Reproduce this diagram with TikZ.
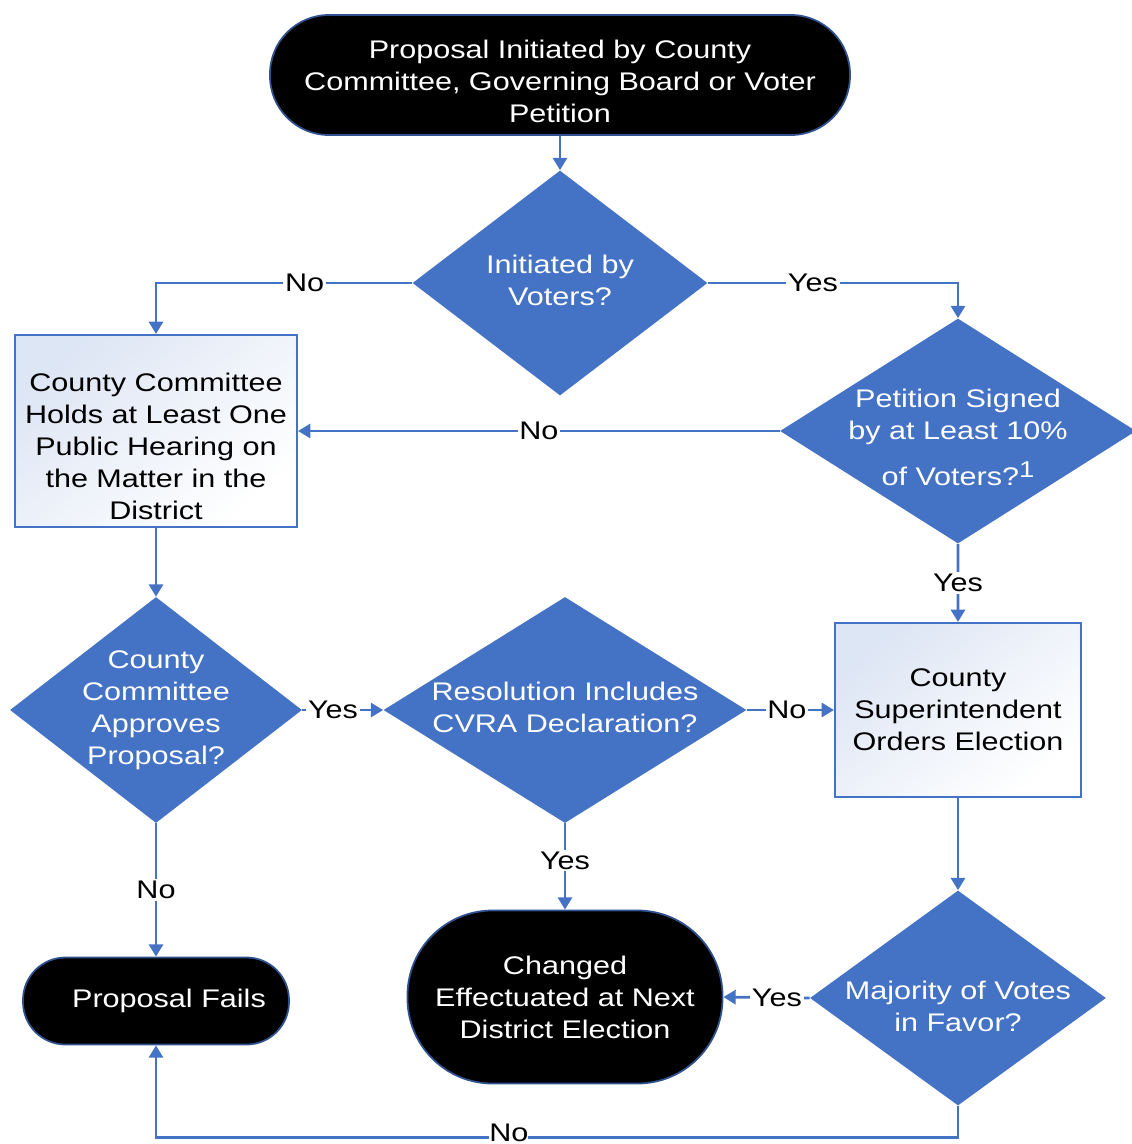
\documentclass[tikz,border=0pt]{standalone}
\usepackage{fontspec}
\setmainfont{Liberation Sans}[FakeStretch=1.2]
\usepackage{tikz}
\usetikzlibrary{arrows.meta,positioning,shapes.geometric}
\definecolor{flowblue}{RGB}{68,114,196}
\definecolor{rimblue}{RGB}{47,82,143}
\newcommand{\dtext}[2][0pt]{\smash{\raisebox{\dimexpr-0.25em-#1\relax}{\begin{tabular}{@{}c@{}}#2\end{tabular}}}}

\begin{document}
\begin{tikzpicture}[node distance=2cm, font=\fontsize{14.5}{18.2}\selectfont]
	\tikzstyle{terminal} = [rectangle, rounded corners=1.18cm, minimum width=11.6cm,
	minimum height=2.4cm, inner sep=0pt, align=center, draw=rimblue, line width=1pt,
	fill=black, text=white]
	\tikzstyle{decision} = [diamond, aspect=2, inner sep=0pt, minimum width=5.9cm,
	minimum height=4.5cm, fill=flowblue, text=white]
	\tikzstyle{process} = [rectangle, minimum width=5.64cm, minimum height=3.84cm,
	align=center, draw=flowblue, line width=1.2pt, top color=flowblue!18!white,
	bottom color=white, shading angle=40]
	\tikzstyle{arrow} = [line width=1.6pt, draw=flowblue, -{Triangle[width=8pt,length=7pt]}]
	\tikzstyle{lbl} = [fill=white, inner sep=1pt, text=black]
	\useasboundingbox (-11.2,1.5) rectangle (11.44,-21.38);
	\node (start) [terminal] {\rule{0pt}{0.62cm}Proposal Initiated by County\\ Committee, Governing Board or Voter\\ Petition};
	\node (voters) [decision, node distance=4.16cm, below of=start] {\dtext{Initiated by\\ Voters?}};
	\node (hearing) [process, node distance=2.96cm, below of=voters, xshift=-8.08cm] {\rule{0pt}{1.0cm}County Committee\\ Holds at Least One\\ Public Hearing on\\ the Matter in the\\ District};
	\node (petition) [decision, minimum width=7.12cm, node distance=2.96cm, below of=voters, xshift=7.96cm] {\dtext[0.18cm]{Petition Signed\\ by at Least 10\%\\[7pt] of Voters?\raisebox{0.3em}{\fontsize{13}{13}\selectfont 1}}};
	\node (approves) [decision, minimum width=5.84cm, minimum height=4.52cm, node distance=5.58cm, below of=hearing] {\dtext{County\\ Committee\\ Approves\\ Proposal?}};
	\node (cvra) [decision, minimum width=7.26cm, minimum height=4.52cm, node distance=8.18cm, right of=approves] {\dtext{Resolution Includes\\ CVRA Declaration?}};
	\node (election) [process, minimum width=4.92cm, minimum height=3.48cm, node distance=7.86cm, right of=cvra] {County\\ Superintendent\\ Orders Election};
	\node (fails) [terminal, rounded corners=0.85cm, minimum width=5.32cm, minimum height=1.74cm, node distance=5.82cm, below of=approves] {\hspace*{0.52cm}Proposal Fails};
	\node (changed) [terminal, rounded corners=1.7cm, minimum width=6.3cm, minimum height=3.46cm, node distance=5.74cm, below of=cvra] {Changed\\ Effectuated at Next\\ District Election};
	\node (majority) [decision, minimum width=5.92cm, minimum height=4.3cm, node distance=5.76cm, below of=election] {\dtext[0.22cm]{Majority of Votes\\ in Favor?}};
	\draw [arrow] (start) -- (voters);
	\draw [arrow] (voters.west) -| node [lbl, pos=0.21] {No} (hearing.north);
	\draw [arrow] (voters.east) -| node [lbl, pos=0.21] {Yes} (petition.north);
	\draw [arrow] (petition.west) -- node [lbl] {No} (hearing.east);
	\draw [arrow] (petition.south) -- node [lbl] {Yes} (election.north);
	\draw [arrow] (hearing.south) -- (approves.north);
	\draw [arrow] (approves.east) -- node [lbl, pos=0.38] {Yes} (cvra.west);
	\draw [arrow] (cvra.east) -- node [lbl, pos=0.46] {No} (election.west);
	\draw [arrow] (cvra.south) -- node [lbl, pos=0.43] {Yes} (changed.north);
	\draw [arrow] (approves.south) -- node [lbl] {No} (fails.north);
	\draw [arrow] (election.south) -- (majority.north);
	\draw [arrow] (majority.west) -- node [lbl, pos=0.38] {Yes} (changed.east);
	\draw [arrow] (majority.south) -- ++(0,-0.64) -| node [lbl, pos=0.28, yshift=3pt, inner sep=0pt] {No} (fails.south);
\end{tikzpicture}
\end{document}
